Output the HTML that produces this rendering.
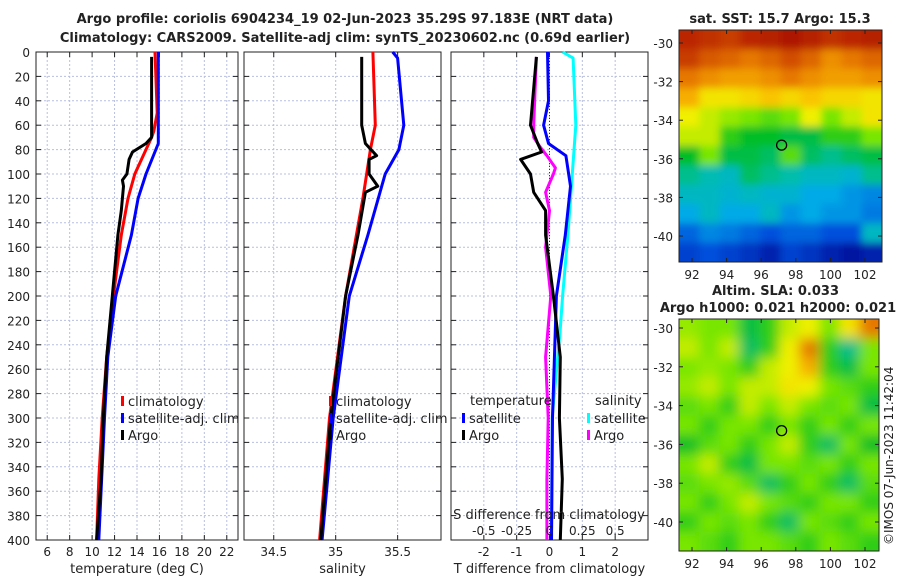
<!DOCTYPE html>
<html><head><meta charset="utf-8"><style>
body{margin:0;background:#fff;font-family:"Liberation Sans","DejaVu Sans",sans-serif}
svg text{font-family:"DejaVu Sans","Liberation Sans",sans-serif;fill:#222}
</style></head><body>
<svg id="c" width="900" height="580">
<text x="345" y="23" text-anchor="middle" font-size="13" font-weight="bold">Argo profile: coriolis 6904234_19 02-Jun-2023 35.29S 97.183E (NRT data)</text>
<text x="345" y="42" text-anchor="middle" font-size="13" font-weight="bold">Climatology: CARS2009. Satellite-adj clim: synTS_20230602.nc (0.69d earlier)</text>
<text x="780" y="23" text-anchor="middle" font-size="13" font-weight="bold">sat. SST: 15.7 Argo: 15.3</text>
<text x="712" y="295" font-size="13" font-weight="bold">Altim. SLA: 0.033</text>
<text x="778" y="312" text-anchor="middle" font-size="13" font-weight="bold">Argo h1000: 0.021 h2000: 0.021</text>
<text transform="translate(893,545) rotate(-90)" font-size="12">©IMOS 07-Jun-2023 11:42:04</text>
</svg>
<script>
// ---- data ----
const depthTicks=[0,20,40,60,80,100,120,140,160,180,200,220,240,260,280,300,320,340,360,380,400];
const tempTicks=[6,8,10,12,14,16,18,20,22];
const salTicks=[34.5,35,35.5];
const tdiffTicks=[-2,-1,0,1,2];
const sdiffTicks=[-0.5,-0.25,0,0.25,0.5];
const sdiffLabels=["-0.5","-0.25","0","0.25","0.5"];
const tArgoDepth=[4,70,75,82,88,100,105,110,130,150,200,250,300,350,400];
const tArgo=[15.3,15.3,14.8,13.6,13.3,13.1,12.7,12.8,12.6,12.3,11.8,11.3,11.0,10.8,10.4];
const tClimDepth=[0,50,65,70,100,120,150,200,250,300,350,400];
const tClim=[15.6,15.8,15.5,15.3,13.8,13.2,12.6,11.9,11.3,10.9,10.6,10.4];
const tSatDepth=[0,75,100,120,150,200,250,300,400];
const tSat=[15.9,15.9,14.8,14.1,13.5,12.1,11.4,11.1,10.6];
const sArgoDepth=[4,60,75,85,88,100,110,115,150,200,250,300,400];
const sArgo=[35.21,35.21,35.24,35.33,35.27,35.27,35.34,35.24,35.18,35.08,35.02,34.96,34.88];
const sClimDepth=[0,60,80,120,200,300,400];
const sClim=[35.3,35.32,35.28,35.22,35.08,34.95,34.87];
const sSatDepth=[0,5,60,80,100,150,200,300,400];
const sSat=[35.46,35.5,35.55,35.51,35.4,35.26,35.11,34.98,34.89];
const dTArgoDepth=[4,60,75,82,88,100,115,130,150,200,250,300,350,400];
const dTArgo=[-0.4,-0.58,-0.36,-0.24,-0.88,-0.58,-0.48,-0.12,-0.12,0.12,0.33,0.3,0.39,0.33];
const dTSatDepth=[0,40,60,75,85,110,150,200,300,400];
const dTSat=[-0.06,-0.03,-0.18,-0.03,0.5,0.64,0.48,0.21,0.09,0.06];
const dSSatDepth=[0,5,60,150,200,230,300,400];
const dSSat=[0.1,0.18,0.2,0.14,0.1,0.08,0.02,0.015];
const dSArgoDepth=[4,60,70,78,85,95,100,115,130,160,200,250,300,350,400];
const dSArgo=[-0.1,-0.12,-0.12,-0.07,-0.02,0.045,0.03,-0.03,0,-0.03,0.01,-0.03,-0.01,-0.02,-0.02];
const lonTicks=[92,94,96,98,100,102];
const latTicks=[-30,-32,-34,-36,-38,-40];
const sstGrid=[
[.9,.88,.85,.9,.92,.95,.92,.88,.9,.92],
[.85,.8,.78,.75,.78,.82,.78,.72,.75,.78],
[.75,.72,.7,.7,.72,.75,.72,.7,.7,.72],
[.68,.6,.6,.62,.65,.62,.65,.62,.62,.6],
[.58,.55,.52,.5,.48,.5,.58,.5,.55,.6],
[.55,.55,.45,.42,.42,.4,.4,.45,.45,.5],
[.42,.5,.4,.4,.38,.48,.38,.35,.38,.4],
[.35,.32,.3,.38,.35,.33,.3,.3,.28,.35],
[.3,.3,.28,.3,.28,.28,.25,.25,.22,.2],
[.25,.3,.25,.25,.3,.22,.25,.22,.22,.18],
[.15,.2,.18,.15,.12,.15,.15,.12,.12,.3],
[.1,.12,.1,.08,.05,.1,.08,.05,.03,.05]];
const slaGrid=[
[.52,.5,.5,.4,.45,.55,.58,.5,.6,.75],
[.55,.5,.55,.38,.45,.58,.75,.45,.35,.5],
[.5,.52,.5,.45,.55,.58,.68,.45,.4,.5],
[.52,.55,.5,.55,.55,.6,.58,.5,.48,.45],
[.48,.5,.45,.55,.5,.55,.5,.48,.5,.4],
[.5,.45,.5,.5,.45,.5,.45,.5,.45,.5],
[.42,.48,.5,.45,.5,.55,.45,.38,.5,.42],
[.5,.55,.45,.4,.5,.5,.48,.5,.45,.5],
[.48,.5,.52,.48,.38,.45,.5,.45,.38,.48],
[.5,.45,.5,.55,.5,.48,.45,.5,.5,.45],
[.45,.5,.48,.5,.45,.38,.5,.48,.45,.5],
[.5,.48,.45,.5,.5,.48,.45,.5,.48,.45]];
const floatLon=97.18, floatLat=-35.29;

// ---- drawing ----
const svg=document.getElementById('c');const NS='http://www.w3.org/2000/svg';
function el(t,a,p){const e=document.createElementNS(NS,t);for(const k in a)e.setAttribute(k,a[k]);(p||svg).appendChild(e);return e;}
const top0=52,bot0=540;
const yD=d=>top0+(d/400)*(bot0-top0);
function lin(d0,d1,p0,p1){return v=>p0+(v-d0)/(d1-d0)*(p1-p0);}
const panels=[
 {x0:36,x1:238,sx:lin(5,23,36,238),ticks:tempTicks,labels:tempTicks.map(String),name:'temperature-panel',xl:'temperature (deg C)'},
 {x0:244,x1:441,sx:lin(34.26,35.85,244,441),ticks:salTicks,labels:salTicks.map(String),name:'salinity-panel',xl:'salinity'},
 {x0:451,x1:648,sx:lin(-3,3,451,648),ticks:tdiffTicks,labels:tdiffTicks.map(String),name:'difference-panel',xl:'T difference from climatology'}];
panels.forEach((p,i)=>{
 const g=el('g',{});
 
 
 p.ticks.forEach((t,j)=>{const x=p.sx(t);
  el('line',{x1:x,x2:x,y1:top0,y2:bot0,stroke:'#b8bfe0','stroke-width':1,'stroke-dasharray':'2,2'},g);
  el('line',{x1:x,x2:x,y1:top0,y2:top0+5,stroke:'#222'},g);el('line',{x1:x,x2:x,y1:bot0,y2:bot0-5,stroke:'#222'},g);
  const tx=el('text',{x:x,y:556,'text-anchor':'middle','font-size':12},g);tx.textContent=p.labels[j];
  
  });
 depthTicks.forEach(d=>{const y=yD(d);
  el('line',{x1:p.x0,x2:p.x1,y1:y,y2:y,stroke:'#b8bfe0','stroke-width':1,'stroke-dasharray':'2,2'},g);
  el('line',{x1:p.x0,x2:p.x0+5,y1:y,y2:y,stroke:'#222'},g);el('line',{x1:p.x1,x2:p.x1-5,y1:y,y2:y,stroke:'#222'},g);
  if(i==0){const tx=el('text',{x:30,y:y+5,'text-anchor':'end','font-size':12},g);tx.textContent=d;
   
   }});
 el('rect',{x:p.x0,y:top0,width:p.x1-p.x0,height:bot0-top0,fill:'none',stroke:'#222','stroke-width':1},g);
 const xl=el('text',{x:(p.x0+p.x1)/2,y:573,'text-anchor':'middle','font-size':13},g);xl.textContent=p.xl;
 
 
});
const P3=panels[2];
el('line',{x1:P3.sx(0),x2:P3.sx(0),y1:top0,y2:bot0,stroke:'#333','stroke-dasharray':'1,2'});
function line(xs,ds,sx,col,name){const pts=xs.map((v,k)=>sx(v).toFixed(1)+','+yD(ds[k]).toFixed(1)).join(' ');
 const e=el('polyline',{points:pts,fill:'none',stroke:col,'stroke-width':3,'stroke-linejoin':'round'});
 
 }
line(tClim,tClimDepth,panels[0].sx,'#f00','temp-climatology-line');
line(tSat,tSatDepth,panels[0].sx,'#00f','temp-satellite-line');
line(tArgo,tArgoDepth,panels[0].sx,'#000','temp-argo-line');
line(sClim,sClimDepth,panels[1].sx,'#f00','sal-climatology-line');
line(sSat,sSatDepth,panels[1].sx,'#00f','sal-satellite-line');
line(sArgo,sArgoDepth,panels[1].sx,'#000','sal-argo-line');
const sdScale=lin(0,0.25,P3.sx(0),P3.sx(1));
line(dSSat,dSSatDepth,sdScale,'#0ff','sdiff-satellite-line');
line(dSArgo,dSArgoDepth,sdScale,'#f0f','sdiff-argo-line');
line(dTSat,dTSatDepth,P3.sx,'#00f','tdiff-satellite-line');
line(dTArgo,dTArgoDepth,P3.sx,'#000','tdiff-argo-line');
const sl=el('text',{x:549,y:519,'text-anchor':'middle','font-size':13});sl.textContent='S difference from climatology';


sdiffTicks.forEach((t,j)=>{const tx=el('text',{x:sdScale(t),y:535,'text-anchor':'middle','font-size':12});tx.textContent=sdiffLabels[j];
 
 });
function leg(x,y,col,label){const g=el('g',{});
 
 
 el('rect',{x:x,y:y-9,width:3,height:10,fill:col},g);const t=el('text',{x:x+7,y:y+1,'font-size':13},g);t.textContent=label;}
leg(121,405,'#f00','climatology');leg(121,422,'#00f','satellite-adj. clim');leg(121,439,'#000','Argo');
leg(329,405,'#f00','climatology');leg(329,422,'#00f','satellite-adj. clim');leg(329,439,'#000','Argo');
{const t=el('text',{x:470,y:405,'font-size':13});t.textContent='temperature';
 const t2=el('text',{x:595,y:405,'font-size':13});t2.textContent='salinity';}
leg(462,422,'#00f','satellite');leg(462,439,'#000','Argo');
leg(587,422,'#0ff','satellite');leg(587,439,'#f0f','Argo');
// colormap
const cmStops=[[0,0,0,140],[.12,0,80,220],[.25,0,170,230],[.33,0,190,170],[.42,0,190,40],[.5,120,230,0],[.58,240,240,0],[.66,250,190,0],[.75,230,120,0],[.85,200,60,0],[1,160,0,0]];
function cmap(v){v=Math.max(0,Math.min(1,v));for(let i=1;i<cmStops.length;i++){const a=cmStops[i-1],b=cmStops[i];if(v<=b[0]){const f=(v-a[0])/(b[0]-a[0]);return `rgb(${Math.round(a[1]+f*(b[1]-a[1]))},${Math.round(a[2]+f*(b[2]-a[2]))},${Math.round(a[3]+f*(b[3]-a[3]))})`;}}return 'rgb(160,0,0)';}
let fid=0;
function map(grid,x0,y0,x1,y1,latTopPx,latBotPx,name,blur){
 const g=el('g',{});
 const cp='cp'+(fid++);const defs=el('defs',{},g);const c=el('clipPath',{id:cp},defs);el('rect',{x:x0,y:y0,width:x1-x0,height:y1-y0},c);
 const f=el('filter',{id:'f'+cp,x:'-10%',y:'-10%',width:'120%',height:'120%'},defs);el('feGaussianBlur',{stdDeviation:blur},f);
 const inner=el('g',{'clip-path':`url(#${cp})`},g);const bl=el('g',{filter:`url(#f${cp})`},inner);
 const R=grid.length,C=grid[0].length,cw=(x1-x0)/C,ch=(y1-y0)/R;
 grid.forEach((row,r)=>row.forEach((v,k)=>{el('rect',{x:x0+k*cw-(k==0?20:0),y:y0+r*ch-(r==0?20:0),width:cw+1+(k==0||k==C-1?20:0),height:ch+1+(r==0||r==R-1?20:0),fill:cmap(v)},bl);}));
 const lx=lin(92,102,692,865),ly=lin(-30,-40,latTopPx,latBotPx);
 el('rect',{x:x0,y:y0,width:x1-x0,height:y1-y0,fill:'none',stroke:'#222'},g);
 lonTicks.forEach(t=>{const x=lx(t);el('line',{x1:x,x2:x,y1:y1,y2:y1-4,stroke:'#222'},g);el('line',{x1:x,x2:x,y1:y0,y2:y0+4,stroke:'#222'},g);
  const tx=el('text',{x:x,y:y1+17,'text-anchor':'middle','font-size':12},g);tx.textContent=t;});
 latTicks.forEach(t=>{const y=ly(t);el('line',{x1:x0,x2:x0+4,y1:y,y2:y,stroke:'#222'},g);el('line',{x1:x1,x2:x1-4,y1:y,y2:y,stroke:'#222'},g);
  const tx=el('text',{x:x0-6,y:y+5,'text-anchor':'end','font-size':12},g);tx.textContent=t;});
 const m=el('circle',{cx:lx(floatLon),cy:ly(floatLat),r:5,fill:'none',stroke:'#000','stroke-width':1.3},g);
 
 
}
map(sstGrid,679,30,882,262,43,236,'sst-map',4);
map(slaGrid,679,319,879,551,328,522,'sla-map',6);
</script>
</body></html>
